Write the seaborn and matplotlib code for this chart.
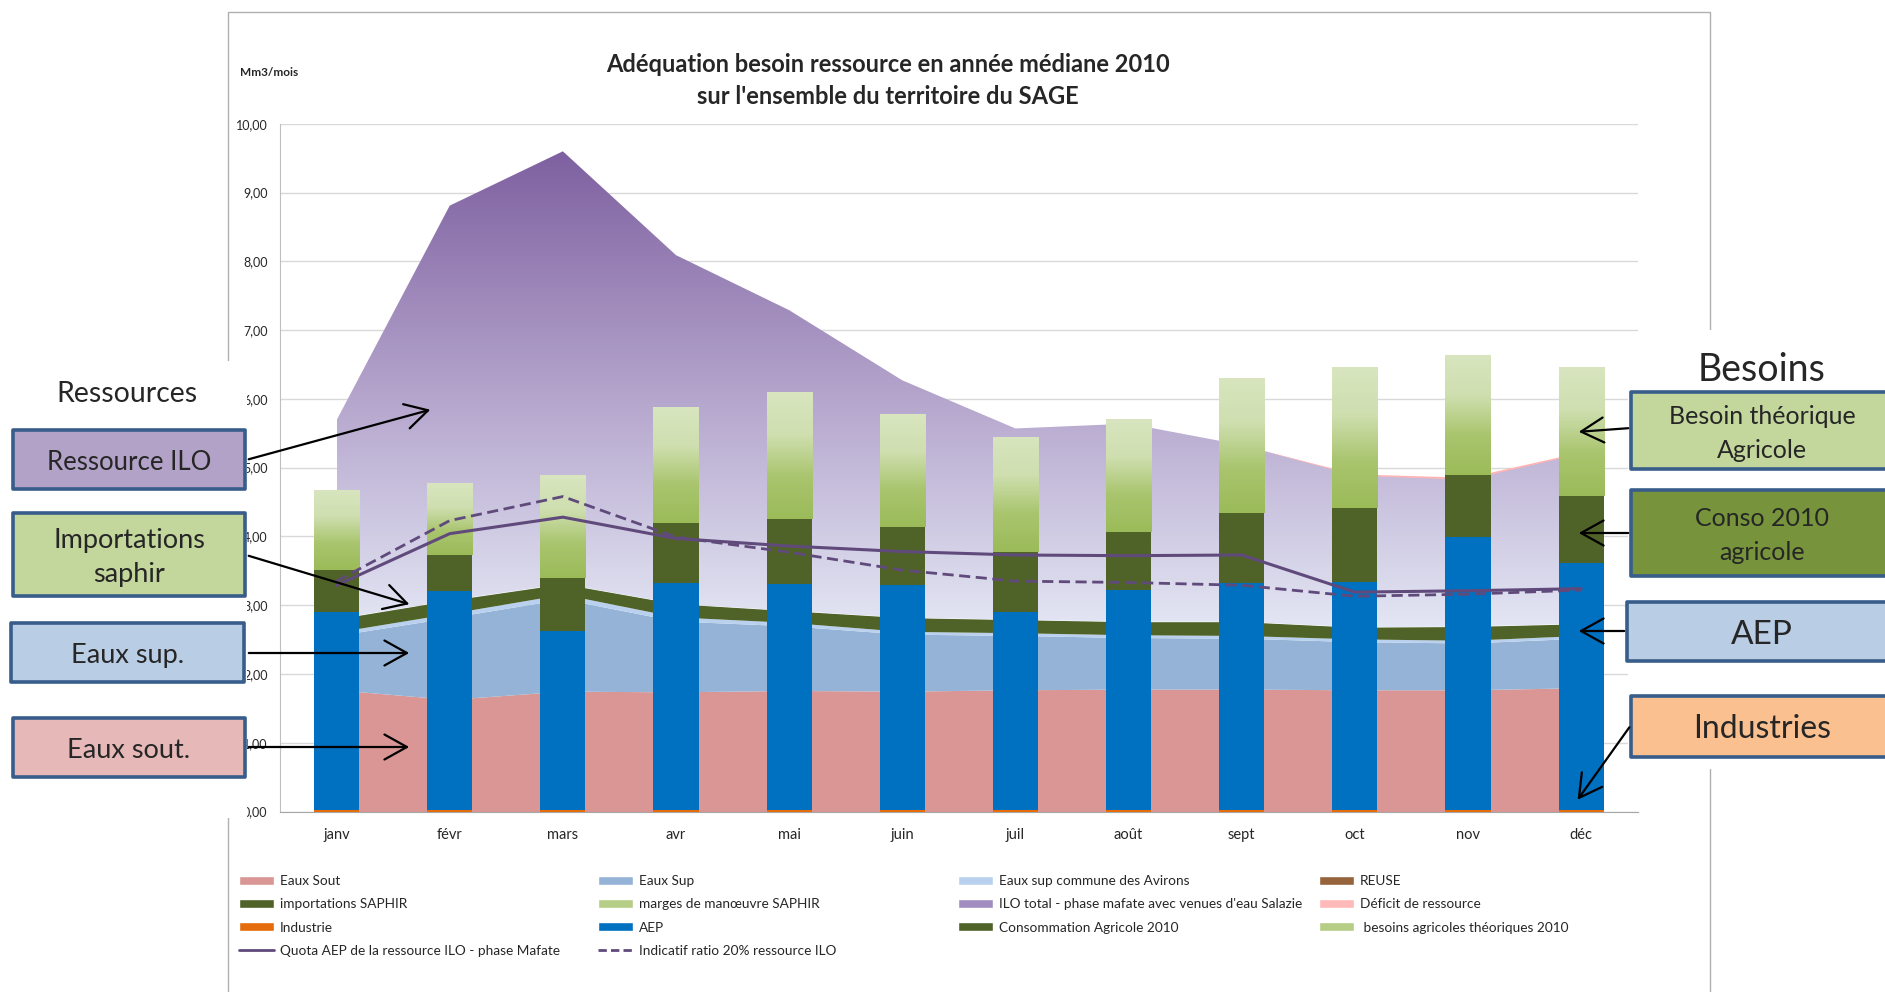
import warnings

warnings.filterwarnings('ignore')
import numpy as np
import matplotlib.pyplot as plt
import seaborn as sns
from matplotlib.patches import Rectangle, FancyArrowPatch, Patch
from matplotlib.lines import Line2D
from matplotlib.colors import LinearSegmentedColormap

sns.set_style("white")
plt.rcParams['font.family'] = ['Lato', 'DejaVu Sans']

months = ['janv', 'févr', 'mars', 'avr', 'mai', 'juin', 'juil', 'août', 'sept', 'oct', 'nov', 'déc']

# ressources (aires empilées) en Mm3/mois
eaux_sout = [1.77, 1.63, 1.75, 1.74, 1.76, 1.75, 1.77, 1.78, 1.78, 1.77, 1.77, 1.80]
eaux_sup = [0.79, 1.19, 1.34, 1.03, 0.94, 0.83, 0.79, 0.75, 0.74, 0.70, 0.68, 0.72]
eaux_sup_avirons = [0.05, 0.06, 0.07, 0.06, 0.05, 0.04, 0.04, 0.04, 0.04, 0.04, 0.04, 0.04]
reuse = [0, 0, 0, 0, 0, 0, 0, 0, 0, 0, 0, 0]
importations_saphir = [0.19, 0.19, 0.15, 0.19, 0.17, 0.20, 0.19, 0.19, 0.20, 0.17, 0.20, 0.17]
marges_saphir = [0, 0, 0, 0, 0, 0, 0, 0, 0, 0, 0, 0]
ilo_total = [2.89, 5.74, 6.29, 5.07, 4.37, 3.45, 2.78, 2.88, 2.57, 2.21, 2.14, 2.48]
deficit = [0, 0, 0, 0, 0, 0, 0, 0, 0, 0.02, 0.03, 0.02]

# besoins (barres empilées)
industrie = [0.02, 0.02, 0.02, 0.02, 0.02, 0.02, 0.02, 0.02, 0.02, 0.02, 0.02, 0.02]
aep = [2.88, 3.18, 2.61, 3.30, 3.29, 3.27, 2.88, 3.20, 3.30, 3.32, 3.97, 3.59]
conso_agri = [0.61, 0.53, 0.77, 0.88, 0.95, 0.85, 0.87, 0.85, 1.02, 1.07, 0.91, 0.98]
besoins_agri = [1.17, 1.04, 1.49, 1.68, 1.84, 1.64, 1.68, 1.64, 1.97, 2.05, 1.74, 1.87]

# courbes
quota_aep = [3.29, 4.04, 4.28, 3.97, 3.86, 3.78, 3.73, 3.72, 3.73, 3.19, 3.21, 3.24]
ratio_20 = [3.35, 4.23, 4.58, 3.99, 3.77, 3.51, 3.35, 3.33, 3.29, 3.13, 3.16, 3.22]

W, H = 1885, 992


def fx(x):
    return x / W


def fy(y):
    return 1 - y / H


def vgrad(colors, n=256):
    cmap = LinearSegmentedColormap.from_list('g', colors)
    return cmap(np.linspace(0, 1, n))[:, None, :]


fig = plt.figure(figsize=(W / 100, H / 100), dpi=100)
ax = fig.add_axes([fx(280), fy(811.5), fx(1637.7) - fx(280), fy(123.8) - fy(811.5)])
x = np.arange(len(months))

# aires des ressources
layers = [
    (eaux_sout, '#D99694'),
    (eaux_sup, '#95B3D7'),
    (eaux_sup_avirons, '#B9D1EE'),
    (reuse, '#96643C'),
    (importations_saphir, '#4F6228'),
    (marges_saphir, '#C3D69B'),
    (ilo_total, None),
    (deficit, '#FFB3B3'),
]
base = np.zeros(len(months))
for vals, col in layers:
    top = base + np.array(vals)
    if col is None:
        poly = ax.fill_between(x, base, top, facecolor='none', edgecolor='none', zorder=1)
        im = ax.imshow(vgrad(['#7E60A0', '#B3A3CB', '#E3E6F4']), aspect='auto',
                       extent=(0, 11, base.min(), top.max()), zorder=1, interpolation='bilinear')
        im.set_clip_path(poly.get_paths()[0], ax.transData)
    else:
        ax.fill_between(x, base, top, color=col, lw=0, zorder=1)
    base = top

# barres des besoins
bottom = np.zeros(len(months))
n0 = 0
for vals, col in [(industrie, '#E46C0A'), (aep, '#0070C0'), (conso_agri, '#4F6228'), (besoins_agri, '#C3D69B')]:
    n0 = len(ax.patches)
    sns.barplot(x=months, y=vals, bottom=bottom, color=col, saturation=1, width=0.4,
                errorbar=None, linewidth=0, zorder=3, ax=ax)
    bottom = bottom + np.array(vals)

for p in ax.patches[n0:]:
    bx, by, bw, bh = p.get_x(), p.get_y(), p.get_width(), p.get_height()
    g = ax.imshow(vgrad(['#D8E5BF', '#CFDFB0', '#A9C56E', '#9BBB59']), aspect='auto',
                  extent=(bx, bx + bw, by, by + bh), zorder=3.1, interpolation='bilinear')
    g.set_clip_path(p)

sns.lineplot(x=x, y=quota_aep, color='#604A7B', lw=2.2, zorder=5, ax=ax)
sns.lineplot(x=x, y=ratio_20, color='#604A7B', lw=2.0, ls=(0, (4, 2)), zorder=5, ax=ax)

ax.set_xlim(-0.5, 11.5)
ax.set_ylim(0, 10)
ax.set_yticks(np.arange(0, 11))
ax.set_yticklabels([f"{v:.2f}".replace('.', ',') for v in np.arange(0, 11)], fontsize=9)
ax.set_xticks(x)
ax.set_xticklabels(months, fontsize=10.5)
ax.set_xticks(np.arange(-0.5, 12, 1), minor=True)
ax.tick_params(axis='x', which='major', length=0, pad=12, colors='#262626')
ax.tick_params(axis='x', which='minor', length=5, color='#A6A6A6', width=1)
ax.tick_params(axis='y', length=4, color='#BFBFBF', pad=5, colors='#262626')
ax.grid(axis='y', color='#D9D9D9', lw=1)
ax.set_axisbelow(True)
for s in ['top', 'right']:
    ax.spines[s].set_visible(False)
ax.spines['left'].set_color('#BFBFBF')
ax.spines['bottom'].set_color('#A6A6A6')
ax.set_xlabel('')
ax.set_ylabel('')

# cadre du graphique
fig.add_artist(Rectangle((fx(228), fy(1010)), fx(1710) - fx(228), fy(12) - fy(1010),
                         transform=fig.transFigure, fill=False, ec='#B0B0B0', lw=1, zorder=0.5))

fig.text(fx(888), fy(64.5), "Adéquation besoin ressource en année médiane 2010", ha='center', va='center',
         fontsize=17, fontweight='bold')
fig.text(fx(888), fy(96), "sur l'ensemble du territoire du SAGE", ha='center', va='center',
         fontsize=17, fontweight='bold')
fig.text(fx(240), fy(73), "Mm3/mois", ha='left', va='center', fontsize=8.5, fontweight='bold')

# légende
items = [
    [('Eaux Sout', Patch(fc='#D99694')), ('importations SAPHIR', Patch(fc='#4F6228')),
     ('Industrie', Patch(fc='#E46C0A')),
     ('Quota AEP de la ressource ILO - phase Mafate', Line2D([], [], color='#604A7B', lw=2))],
    [('Eaux Sup', Patch(fc='#95B3D7')), ('marges de manœuvre SAPHIR', Patch(fc='#B5CD85')),
     ('AEP', Patch(fc='#0070C0')),
     ('Indicatif ratio 20% ressource ILO', Line2D([], [], color='#604A7B', lw=2, ls=(0, (3, 1.5))))],
    [('Eaux sup commune des Avirons', Patch(fc='#B9D1EE')),
     ("ILO total - phase mafate avec venues d'eau Salazie", Patch(fc='#A08CBF')),
     ('Consommation Agricole 2010', Patch(fc='#4F6228'))],
    [('REUSE', Patch(fc='#96643C')), ('Déficit de ressource', Patch(fc='#FFB9B9')),
     (' besoins agricoles théoriques 2010', Patch(fc='#B5CD85'))],
]
for cx, col in zip([239, 598, 958, 1319], items):
    fig.legend([h for _, h in col], [t for t, _ in col], loc='upper left',
               bbox_to_anchor=(fx(cx), fy(875)), frameon=False, borderpad=0, borderaxespad=0,
               fontsize=9.8, handlelength=2.6, handleheight=0.6, handletextpad=0.4, labelspacing=0.83)

# zones d'annotation
fig.add_artist(Rectangle((0, fy(818)), fx(247), fy(361) - fy(818), transform=fig.transFigure,
                         fc='white', ec='none', zorder=1))
fig.add_artist(Rectangle((fx(1700), fy(392)), 1, fy(330) - fy(392), transform=fig.transFigure,
                         fc='white', ec='none', zorder=1))
fig.add_artist(Rectangle((fx(1628), fy(769)), 1, fy(392) - fy(769), transform=fig.transFigure,
                         fc='white', ec='none', zorder=1))

fig.text(fx(127), fy(394), "Ressources", ha='center', va='center', fontsize=20.5, color='#262626', zorder=4)
fig.text(fx(1762), fy(370), "Besoins", ha='center', va='center', fontsize=27, color='#262626', zorder=4)

boxes = [
    (13, 430, 245, 489, '#B3A2C7', ["Ressource ILO"], 18.5),
    (13, 513, 245, 596, '#C3D69B', ["Importations", "saphir"], 19.5),
    (11, 623, 244, 682, '#B9CDE5', ["Eaux sup."], 19.5),
    (13, 718, 245, 777, '#E6B9B8', ["Eaux sout."], 19.5),
    (1631, 392, 1900, 469, '#C3D69B', ["Besoin théorique", "Agricole"], 18),
    (1631, 490, 1900, 576, '#77933C', ["Conso 2010", "agricole"], 18),
    (1627, 602, 1900, 661, '#B9CDE5', ["AEP"], 24),
    (1631, 696, 1900, 757, '#FAC090', ["Industries"], 23),
]
for x0, y0, x1, y1, fc, lines, fs in boxes:
    fig.add_artist(Rectangle((fx(x0), fy(y1)), fx(x1) - fx(x0), fy(y0) - fy(y1), transform=fig.transFigure,
                             fc=fc, ec='#385D8A', lw=2.6, joinstyle='round', zorder=2))
    cx = (x0 + x1) / 2 if x1 < 1885 else 1762
    cy = (y0 + y1) / 2 + 3
    pitch = 34
    for i, t in enumerate(lines):
        yy = cy + (i - (len(lines) - 1) / 2) * pitch
        fig.text(fx(cx), fy(yy), t, ha='center', va='center', fontsize=fs, color='#262626', zorder=4)

arrows = [
    ((246, 460), (433, 409)),
    ((246, 555), (412, 605)),
    ((246, 653), (412, 653)),
    ((246, 747), (412, 747)),
    ((1631, 428), (1576, 432)),
    ((1631, 533), (1576, 533)),
    ((1627, 631), (1576, 631)),
    ((1631, 725), (1576, 802)),
]
for (xa, ya), (xb, yb) in arrows:
    fig.add_artist(FancyArrowPatch((fx(xa), fy(ya)), (fx(xb), fy(yb)), transform=fig.transFigure,
                                   arrowstyle='->,head_length=0.9,head_width=0.5', mutation_scale=18,
                                   lw=1.6, color='black', zorder=4))

plt.savefig('out.png', dpi=100)
